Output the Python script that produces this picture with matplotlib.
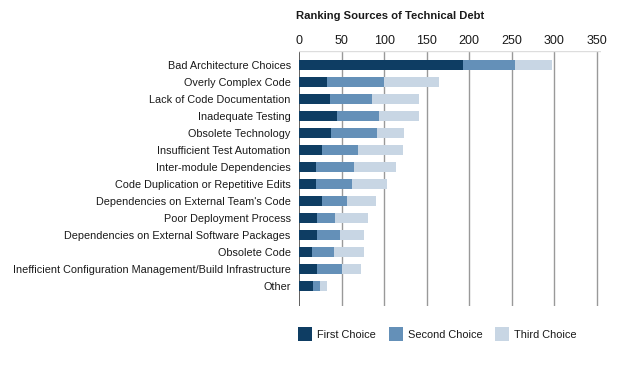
import matplotlib
matplotlib.use("Agg")
import matplotlib.pyplot as plt
from matplotlib.patches import Rectangle

categories = [
    "Bad Architecture Choices",
    "Overly Complex Code",
    "Lack of Code Documentation",
    "Inadequate Testing",
    "Obsolete Technology",
    "Insufficient Test Automation",
    "Inter-module Dependencies",
    "Code Duplication or Repetitive Edits",
    "Dependencies on External Team's Code",
    "Poor Deployment Process",
    "Dependencies on External Software Packages",
    "Obsolete Code",
    "Inefficient Configuration Management/Build Infrastructure",
    "Other",
]
first_choice = [193, 33, 36, 45, 38, 27, 20, 20, 27, 21, 21, 15, 21, 16]
second_choice = [61, 67, 50, 49, 54, 42, 45, 42, 29, 21, 27, 26, 30, 9]
third_choice = [43, 64, 55, 47, 31, 53, 49, 41, 35, 39, 28, 35, 22, 8]
series_names = ["First Choice", "Second Choice", "Third Choice"]
colors = ["#0e3d63", "#6490b8", "#c8d6e4"]
x_ticks = [0, 50, 100, 150, 200, 250, 300, 350]

plt.rcParams['font.family'] = ['Liberation Sans', 'DejaVu Sans']

W, H = 630, 381
fig = plt.figure(figsize=(6.3, 3.81), dpi=100)
ax = fig.add_axes([299/W, 1-306/H, (601-299)/W, (306-51)/H])

ypos = list(range(len(categories)))
left = [0]*len(categories)
for vals, c, name in zip([first_choice, second_choice, third_choice], colors, series_names):
    ax.barh(ypos, vals, left=left, height=0.6, color=c, label=name, zorder=3)
    left = [l + v for l, v in zip(left, vals)]

ax.set_xlim(0, 355)
ax.set_ylim(14.18, -0.82)
ax.set_yticks(ypos)
ax.set_yticklabels(categories, fontsize=7.8, color="#1a1a1a")
ax.set_xticks(x_ticks)
ax.xaxis.tick_top()
ax.tick_params(axis='x', length=0, labelsize=9, pad=3, colors="#1a1a1a")
ax.tick_params(axis='y', length=0, pad=6)
for t in x_ticks:
    ax.axvline(t, color="#444444" if t == 0 else "#999999", lw=1.2 if t == 0 else 1.0, zorder=1)
ax.axhline(-0.82, color="#dddddd", lw=1, zorder=1)
for s in ax.spines.values():
    s.set_visible(False)

fig.text(296/W, 1-16/H, "Ranking Sources of Technical Debt", fontsize=8.1, fontweight="bold",
         va="center", ha="left", color="#1a1a1a")

# legend, placed manually
leg_x = [298, 389, 495]
for x0, c, name in zip(leg_x, colors, series_names):
    fig.add_artist(Rectangle((x0/W, 1-341/H), 14/W, 14/H, transform=fig.transFigure,
                             facecolor=c, edgecolor='none'))
    fig.text((x0+19)/W, 1-334.5/H, name, fontsize=7.9, va="center", ha="left", color="#1a1a1a")

fig.savefig("out.png", dpi=100)
